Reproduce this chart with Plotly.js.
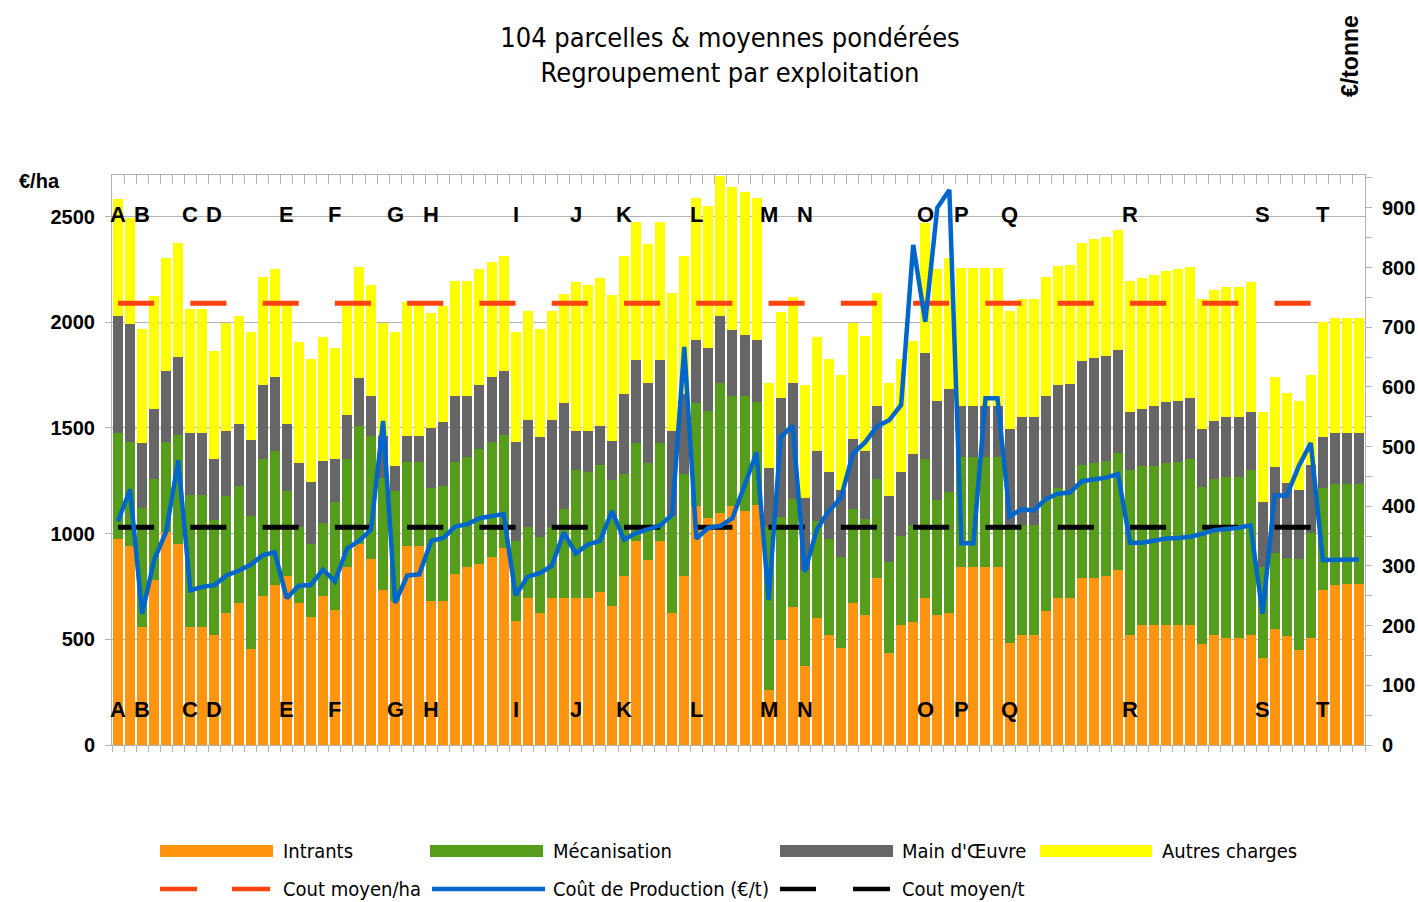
<!DOCTYPE html>
<html><head><meta charset="utf-8">
<script src="https://cdn.plot.ly/plotly-3.0.1.min.js"></script>
<style>html,body{margin:0;padding:0;background:#fff;} #chart{width:1418px;height:902px;}</style>
</head><body><div id="chart"></div>
<script>
// ---- DATA ----
const parcelles = [1,2,3,4,5,6,7,8,9,10,11,12,13,14,15,16,17,18,19,20,21,22,23,24,25,26,27,28,29,30,
31,32,33,34,35,36,37,38,39,40,41,42,43,44,45,46,47,48,49,50,51,52,53,54,55,56,57,58,59,60,
61,62,63,64,65,66,67,68,69,70,71,72,73,74,75,76,77,78,79,80,81,82,83,84,85,86,87,88,89,90,
91,92,93,94,95,96,97,98,99,100,101,102,103,104];

const intrants = [975,940,560,780,1010,950,560,560,520,625,
670,455,705,755,800,670,605,705,640,840,
950,880,735,680,940,940,680,680,810,840,
855,890,930,585,695,625,695,695,695,695,
725,660,800,965,875,965,625,800,1130,1075,
1100,1130,1105,1135,260,495,655,375,600,520,
460,670,615,790,435,570,580,695,615,625,
840,840,840,840,485,520,520,635,695,695,
790,790,800,830,520,570,570,570,570,570,
480,520,505,505,520,410,550,515,450,505,
735,755,760,760];

const mecanisation = [500,495,560,480,425,515,625,625,545,555,
555,630,650,635,400,360,345,345,510,515,
560,580,530,520,400,400,535,545,530,525,
545,545,535,380,335,360,335,420,605,595,
600,595,480,465,460,465,460,480,490,505,
615,520,545,490,770,585,510,455,460,455,
430,445,455,470,430,420,460,660,545,570,
525,525,525,525,555,520,520,535,520,505,
535,545,545,550,780,750,750,765,770,785,
740,740,765,765,780,430,360,370,430,500,
480,480,475,475];

const mainOeuvre = [555,555,310,330,335,370,290,290,290,305,
295,360,350,350,320,305,295,295,205,205,
225,190,195,120,120,120,285,305,310,285,
305,305,305,470,510,470,510,505,185,195,
185,185,380,390,380,390,400,380,295,300,
315,315,290,290,280,560,550,340,330,315,
315,335,320,345,315,300,335,500,470,490,
240,240,240,240,455,510,510,480,490,510,
490,495,495,490,275,270,285,290,290,285,
275,275,280,280,275,310,405,355,325,320,
240,240,240,240];

const autresCharges = [555,505,540,535,535,540,590,590,510,510,
510,510,510,510,560,570,580,585,525,515,
525,525,535,635,635,635,545,545,545,545,
545,545,545,520,515,515,515,515,705,690,
700,690,655,655,655,655,655,655,675,670,
660,675,675,675,405,410,405,535,540,535,
545,545,545,535,535,535,535,615,620,620,
650,650,650,650,560,560,560,565,560,560,
560,565,565,565,620,620,620,620,620,620,
615,620,615,615,615,425,425,425,425,425,
545,545,545,545];

// Coût de production (€/t), right axis
const coutProduction = [375,428,220,310,358,477,259,265,268,284,
292,302,318,323,246,267,268,294,274,329,
342,361,543,238,284,286,342,347,366,370,
380,384,387,251,282,288,300,356,321,336,
342,392,344,355,361,368,386,667,346,364,
367,380,435,490,243,516,535,290,361,392,
414,488,507,534,544,570,838,709,900,930,
338,338,581,581,383,395,393,412,421,423,
442,445,448,454,339,339,342,346,347,349,
354,360,362,364,368,220,418,418,467,506,
310,310,311,311];

const coutMoyenHa = 2090;   // €/ha
const coutMoyenT = 365;     // €/t
const moyenneSpan = [1, 101]; // first and last parcel covered by the average lines

const exploitations = ['A','B','C','D','E','F','G','H','I','J','K','L','M','N','O','P','Q','R','S','T'];
const debutExploitation = [1,3,7,9,15,19,24,27,34,39,43,49,55,58,68,71,75,85,96,101];

const yTicksHa = [0,500,1000,1500,2000,2500];

// ---- STYLE ----
const C_ORANGE = '#ff950e', C_GREEN = '#579d1c', C_GRAY = '#666666', C_YELLOW = '#ffff00';
const C_RED = '#ff420e', C_BLUE = '#0066cc', C_BLACK = '#000000', C_AXIS = '#b3b3b3';
const NARROW = '"Liberation Sans Narrow", "DejaVu Sans Condensed", sans-serif';
const SANS = '"Liberation Sans", Arial, sans-serif';

const W = 1418, H = 902;
const PL = 112, PR = 1365, PT = 175, PB = 745;
const px = x => (x - PL) / (PR - PL);
const py = y => (PB - y) / (PB - PT);
const barStep = (PR - PL) / parcelles.length;
const dashLen = (3 * barStep).toFixed(2) + 'px';

function bar(name, y, color) {
  return {type:'bar', x: parcelles, y: y, name: name, marker:{color: color, line:{width:0}},
          showlegend:false, hovertemplate: name + ': %{y}<extra></extra>'};
}

const traces = [
  bar('Intrants', intrants, C_ORANGE),
  bar('Mécanisation', mecanisation, C_GREEN),
  bar("Main d'Œuvre", mainOeuvre, C_GRAY),
  bar('Autres charges', autresCharges, C_YELLOW),
  {type:'scatter', mode:'lines', name:'Cout moyen/ha', x: moyenneSpan, y:[coutMoyenHa, coutMoyenHa],
   line:{color:C_RED, width:5, dash: dashLen + ',' + dashLen}, showlegend:false},
  {type:'scatter', mode:'lines', name:'Cout moyen/t', x: moyenneSpan, y:[coutMoyenT, coutMoyenT], yaxis:'y2',
   line:{color:C_BLACK, width:5, dash: dashLen + ',' + dashLen}, showlegend:false},
  {type:'scatter', mode:'lines', name:'Coût de Production (€/t)', x: parcelles, y: coutProduction, yaxis:'y2',
   line:{color:C_BLUE, width:4.5}, showlegend:false},
  // empty trace so the top (inner-tick) axis is drawn
  {type:'scatter', mode:'lines', x:[], y:[], xaxis:'x2', yaxis:'y', showlegend:false, hoverinfo:'skip'}
];

// ---- ANNOTATIONS ----
const annotations = [];
exploitations.forEach((l, i) => {
  [2512, 166].forEach(yv => annotations.push({x: debutExploitation[i], y: yv, xref:'x', yref:'y', text: l,
    showarrow:false, font:{family:SANS, size:22, color:'#000', weight:'bold'}}));
});
annotations.push({xref:'paper', yref:'paper', x: px(17), y: py(181), xanchor:'left', yanchor:'middle',
  text:'€/ha', showarrow:false, font:{family:SANS, size:20, color:'#000', weight:'bold'}});
annotations.push({xref:'paper', yref:'paper', x: px(1350), y: py(56), xanchor:'center', yanchor:'middle',
  text:'€/tonne', textangle:-90, showarrow:false, font:{family:SANS, size:23, color:'#000', weight:'bold'}});

// custom legend
const shapes = [];
const legendFont = {family:NARROW, size:20, color:'#000'};
const legendRow1 = [
  {name:'Intrants', color:C_ORANGE, x0:160, x1:273, tx:281},
  {name:'Mécanisation', color:C_GREEN, x0:430, x1:543, tx:551},
  {name:"Main d'Œuvre", color:C_GRAY, x0:780, x1:893, tx:900},
  {name:'Autres charges', color:C_YELLOW, x0:1040, x1:1152, tx:1160}
];
legendRow1.forEach(e => {
  shapes.push({type:'rect', xref:'paper', yref:'paper', x0:px(e.x0), x1:px(e.x1), y0:py(857), y1:py(845),
    fillcolor:e.color, line:{width:0}});
  annotations.push({xref:'paper', yref:'paper', x:px(e.tx), y:py(851), xanchor:'left', yanchor:'middle',
    text:e.name, showarrow:false, font:legendFont});
});
const legendRow2 = [
  {name:'Cout moyen/ha', color:C_RED, segs:[[160,197],[232,270]], tx:281},
  {name:'Coût de Production (€/t)', color:C_BLUE, segs:[[432,545]], tx:551},
  {name:'Cout moyen/t', color:C_BLACK, segs:[[780,816],[853,890]], tx:900}
];
legendRow2.forEach(e => {
  e.segs.forEach(s => shapes.push({type:'line', xref:'paper', yref:'paper', x0:px(s[0]), x1:px(s[1]),
    y0:py(889), y1:py(889), line:{color:e.color, width:4.5}}));
  annotations.push({xref:'paper', yref:'paper', x:px(e.tx), y:py(889), xanchor:'left', yanchor:'middle',
    text:e.name, showarrow:false, font:legendFont});
});

const tickFont = {family:SANS, size:20, color:'#000', weight:'bold'};

const layout = {
  width: W, height: H, autosize:false,
  margin:{l:PL, r:W-PR, t:PT, b:H-PB, pad:0},
  paper_bgcolor:'#fff', plot_bgcolor:'#fff',
  barmode:'stack', bargap:0.17,
  title:{text:'104 parcelles & moyennes pondérées<br>Regroupement par exploitation',
    xref:'container', yref:'container', x: 730/W, xanchor:'center', y: 1 - 47/H, yanchor:'top',
    font:{family:NARROW, size:27, color:'#000'}},
  xaxis:{range:[0.5, 104.5], tickmode:'linear', tick0:0.5, dtick:1, ticks:'outside', ticklen:6,
    tickcolor:C_AXIS, showticklabels:false, showline:true, linecolor:C_AXIS, linewidth:1, mirror:true,
    showgrid:false, zeroline:false, fixedrange:true},
  xaxis2:{overlaying:'x', side:'top', anchor:'y', range:[0.5, 104.5], tickmode:'linear', tick0:0.5, dtick:1,
    ticks:'inside', ticklen:9, tickcolor:C_AXIS, showticklabels:false, showline:false, showgrid:false, zeroline:false},
  yaxis:{range:[0, 2697], tickmode:'array', tickvals:yTicksHa, ticks:'outside', ticklen:6, tickcolor:C_AXIS,
    showgrid:true, gridcolor:C_AXIS, gridwidth:1, showline:true, linecolor:C_AXIS, mirror:true,
    zeroline:false, tickfont:tickFont, ticklabelstandoff:6},
  yaxis2:{overlaying:'y', side:'right', range:[0, 955], tickmode:'linear', tick0:0, dtick:100,
    ticks:'outside', ticklen:6, tickcolor:C_AXIS,
    minor:{tick0:0, dtick:50, ticks:'outside', ticklen:6, tickcolor:C_AXIS},
    showgrid:false, zeroline:false, showline:true, linecolor:C_AXIS, tickfont:tickFont, ticklabelstandoff:6},
  annotations: annotations,
  shapes: shapes,
  showlegend:false
};

Plotly.newPlot('chart', traces, layout, {displayModeBar:false, staticPlot:true});
</script></body></html>
